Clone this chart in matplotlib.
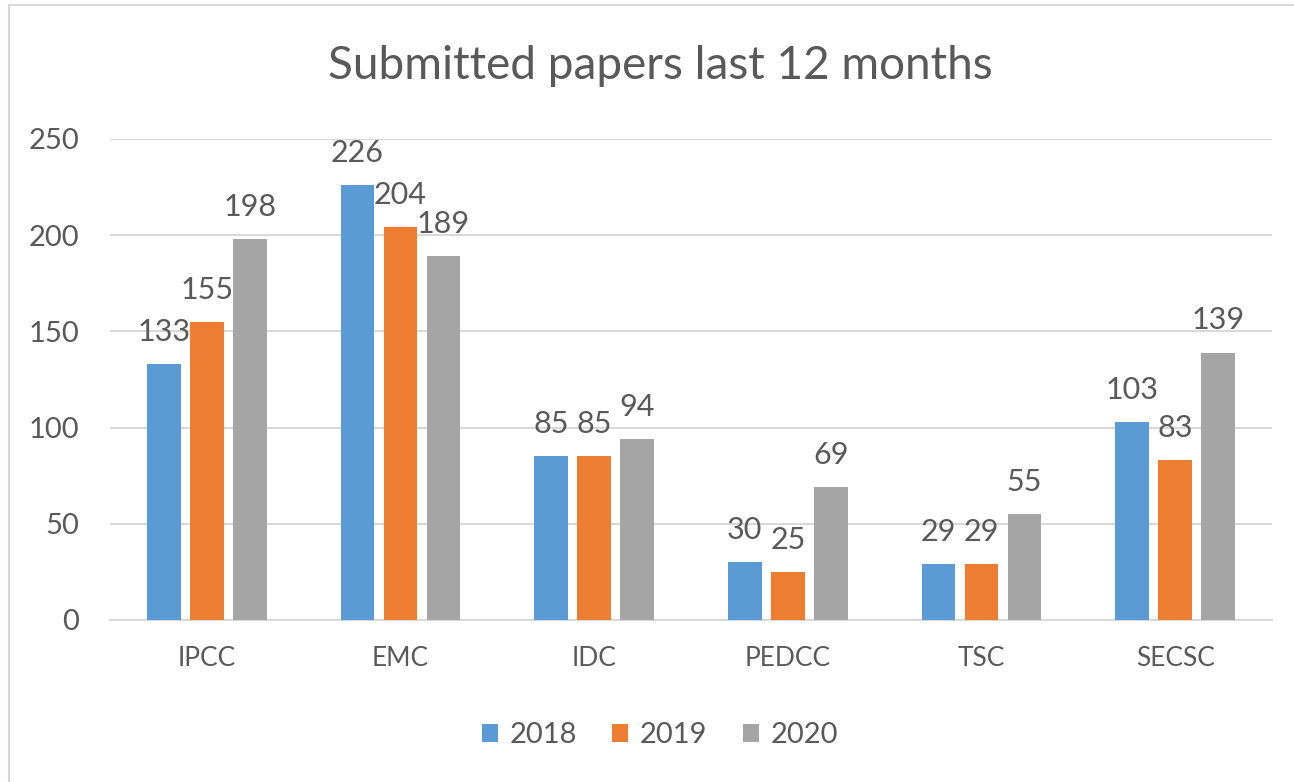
import matplotlib.pyplot as plt
from matplotlib.lines import Line2D
import numpy as np

# values
committees = ["IPCC", "EMC", "IDC", "PEDCC", "TSC", "SECSC"]
years = ["2018", "2019", "2020"]
papers_2018 = [133, 226, 85, 30, 29, 103]
papers_2019 = [155, 204, 85, 25, 29, 83]
papers_2020 = [198, 189, 94, 69, 55, 139]
y_ticks = [0, 50, 100, 150, 200, 250]

colors = ["#5B9BD5", "#ED7D31", "#A5A5A5"]
text_color = "#595959"

plt.rcParams["font.family"] = ["Lato", "DejaVu Sans"]

fig = plt.figure(figsize=(12.94, 7.82), dpi=100)
ax = fig.add_axes([0.085, 0.2072, 0.898, 0.6151])

x = np.arange(len(committees))
step = 0.222
width = 0.175
series = [papers_2018, papers_2019, papers_2020]

for i, (vals, col, yr) in enumerate(zip(series, colors, years)):
    bars = ax.bar(x + (i - 1) * step, vals, width, color=col, label=yr, zorder=3)
    for b, v in zip(bars, vals):
        ax.annotate(str(v), (b.get_x() + b.get_width() / 2, v),
                    xytext=(0, 13), textcoords="offset points",
                    ha="center", va="bottom", fontsize=22, color=text_color)

ax.set_xlim(-0.5, len(committees) - 0.5)
ax.set_ylim(0, 250)
ax.set_yticks(y_ticks)
ax.set_xticks(x)
ax.set_xticklabels(committees)
ax.tick_params(axis="y", length=0, labelsize=21, colors=text_color, pad=22)
ax.tick_params(axis="x", length=0, labelsize=19, colors=text_color, pad=19)
ax.grid(axis="y", color="#D9D9D9", linewidth=1.5, zorder=0)
for s in ["top", "right", "left"]:
    ax.spines[s].set_visible(False)
ax.spines["bottom"].set_color("#D9D9D9")
ax.spines["bottom"].set_linewidth(1.5)

fig.text(0.51, 0.915, "Submitted papers last 12 months", ha="center", va="center",
         fontsize=33, color=text_color)

fig.legend(loc="center", bbox_to_anchor=(0.51, 0.06), ncol=3, frameon=False,
           fontsize=21, labelcolor=text_color, handlelength=0.55, handleheight=0.55,
           handletextpad=0.4, columnspacing=1.2)

# chart border (top and left edges visible in the reference)
fig.add_artist(Line2D([0.007, 1.0], [0.993, 0.993], color="#D9D9D9", linewidth=1.5))
fig.add_artist(Line2D([0.007, 0.007], [0.0, 0.993], color="#D9D9D9", linewidth=1.5))

fig.savefig("out.png", dpi=100)
